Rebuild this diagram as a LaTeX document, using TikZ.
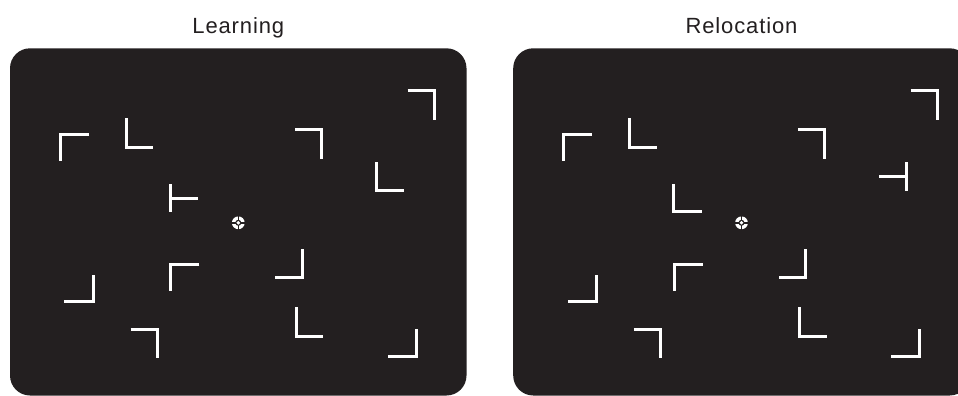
\documentclass[tikz,border=0pt]{standalone}
\usepackage{fontspec}
\newfontfamily\titlefont{Liberation Sans}[LetterSpace=4]
\definecolor{panelgray}{RGB}{35,31,32}
\tikzset{
  panel/.style={fill=panelgray,draw=none,rounded corners=20pt},
  stim/.style={draw=white,line width=3pt,line cap=butt,line join=miter},
  titletext/.style={font=\titlefont\fontsize{22}{26}\selectfont,text=panelgray,anchor=base,inner sep=0pt}
}
\newcommand{\fixmark}[1]{%
  \fill[white] (#1) circle[radius=6.4pt];
  \fill[panelgray] ([xshift=-7pt,yshift=-0.8pt]#1) rectangle ([xshift=7pt,yshift=0.8pt]#1);
  \fill[panelgray] ([xshift=-0.8pt,yshift=-7pt]#1) rectangle ([xshift=0.8pt,yshift=7pt]#1);
  \fill[panelgray] (#1) circle[radius=3pt];
  \fill[white] (#1) circle[radius=1.9pt];
}
\newcommand{\commonitems}{%
  \draw[stim] (407.5,90.8) -- (434.2,90.8) -- (434.2,120);
  \draw[stim] (89,134) -- (60.3,134) -- (60.3,160.7);
  \draw[stim] (126.5,118.3) -- (126.5,147) -- (153.3,147);
  \draw[stim] (295,129.5) -- (321.7,129.5) -- (321.7,158.7);
  \draw[stim] (93.5,275) -- (93.5,301.7) -- (64.3,301.7);
  \draw[stim] (199.3,264.2) -- (170.8,264.2) -- (170.8,291);
  \draw[stim] (302.3,249.3) -- (302.3,277.7) -- (275.3,277.7);
  \draw[stim] (130.7,329.8) -- (157.2,329.8) -- (157.2,358.3);
  \draw[stim] (296,307.3) -- (296,336.5) -- (323.3,336.5);
  \draw[stim] (416.7,329) -- (416.7,356.7) -- (387.7,356.7);
}
\begin{document}
\begin{tikzpicture}[x=1pt,y=-1pt]
\useasboundingbox (0,0) rectangle (958,396);
\clip (0,0) rectangle (958,396);
% left panel: Learning
\node[titletext] (t1) at (238.3,33.3) {Learning};
\path[panel] (10,48.3) rectangle (466.5,395.5);
\commonitems
\draw[stim] (376.8,162.3) -- (376.8,190.7) -- (404,190.7);
\draw[stim] (170,184) -- (170,212.3);
\draw[stim] (170,198.7) -- (198.3,198.7);
\coordinate (f1) at (238.3,222.8);
\fixmark{f1}
% right panel: Relocation
\begin{scope}[shift={(503.2,0)}]
\node[titletext] (t2) at (238.3,33.3) {Relocation};
\path[panel] (10,48.3) rectangle (466.5,395.5);
\commonitems
\draw[stim] (403.3,162.3) -- (403.3,190.7);
\draw[stim] (376,176.2) -- (403.3,176.2);
\draw[stim] (169.8,184) -- (169.8,211) -- (198.7,211);
\coordinate (f2) at (238.3,222.8);
\fixmark{f2}
\end{scope}
\end{tikzpicture}
\end{document}
